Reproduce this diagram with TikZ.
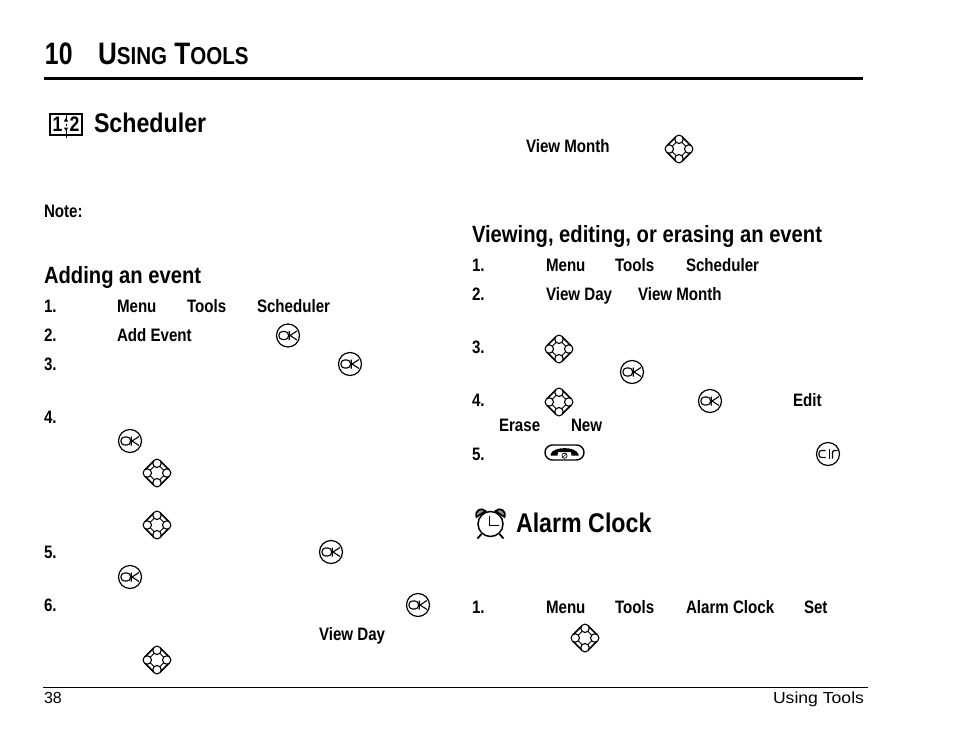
\documentclass[tikz,border=0pt]{standalone}
\usepackage{fontspec}
\setmainfont{Liberation Sans}
\newfontfamily\labf[FakeStretch=0.84]{Liberation Sans Bold}
\newfontfamily\secf[FakeStretch=0.86]{Liberation Sans Bold}
\newfontfamily\headf[FakeStretch=0.84]{Liberation Sans Bold}
\newfontfamily\numf[FakeStretch=0.80]{Liberation Sans Bold}
\newfontfamily\wide[FakeStretch=1.1]{Liberation Sans}
\tikzset{
 lab/.style={anchor=base west,inner sep=0pt,outer sep=0pt,font=\labf\fontsize{18}{20}\selectfont},
 sec/.style={anchor=base west,inner sep=0pt,outer sep=0pt,font=\secf\fontsize{23.5}{26}\selectfont},
 big/.style={anchor=base west,inner sep=0pt,outer sep=0pt,yshift=.5pt,font=\secf\fontsize{27}{30}\selectfont},
 head/.style={anchor=base west,inner sep=0pt,outer sep=0pt,yshift=1pt,font=\headf\fontsize{31}{34}\selectfont},
 plain/.style={anchor=base west,inner sep=0pt,outer sep=0pt,yshift=.5pt,font=\fontsize{16}{18}\selectfont},
 okicon/.pic={
  \draw[line width=1.2pt] (0,0) circle (11.5);
  \draw[line width=1.1pt,rounded corners=3.5pt] (-9,-4) rectangle (0.5,4);
  \draw[line width=1.1pt] (1.2,-4.5) -- (1.2,4.5) (9,-4.5) -- (2,0) -- (9,4.5);
 },
 clricon/.pic={
  \draw[line width=1.2pt] (0,0) circle (11.5);
  \draw[line width=1.1pt,rounded corners=2.5pt] (-2.5,-3.5) -- (-9,-3.5) -- (-9,3.5) -- (-2.5,3.5);
  \draw[line width=1.1pt] (1.3,-5) -- (1.3,4.5);
  \draw[line width=1.1pt,rounded corners=1.5pt] (4.5,4.5) -- (4.5,-3.5) -- (9.5,-3.5);
 },
 navicon/.pic={
  \draw[line width=1.6pt] (2.8,-12.5) -- (12.5,-2.8) (12.5,2.8) -- (2.8,12.5) (-2.8,12.5) -- (-12.5,2.8) (-12.5,-2.8) -- (-2.8,-12.5);
  \draw[line width=.9pt] (3,-6.5) -- (6.5,-3) (6.5,3) -- (3,6.5) (-3,6.5) -- (-6.5,3) (-6.5,-3) -- (-3,-6.5);
  \foreach \a in {0,90,180,270}{\draw[line width=1.1pt,fill=white] (\a:9.7) circle (4.2);}
 },
 endicon/.pic={
  \draw[line width=1.4pt,rounded corners=7.5pt] (-19.5,-7.5) rectangle (19.5,7.5);
  \fill (-14,2) .. controls (-12,-6.5) and (12,-6.5) .. (14,2) -- (14,3) -- (7,3) -- (6.5,-.5) -- (-6.5,-.5) -- (-7,3) -- (-14,3) -- cycle;
  \draw[line width=.7pt] (0,3.2) circle (2.6);
  \draw[line width=.6pt] (-1.8,5) -- (1.8,1.4);
 },
}
\begin{document}
\begin{tikzpicture}[x=1pt,y=-1pt]
\useasboundingbox (0,0) rectangle (954,742);
\fill[white] (0,0) rectangle (954,742);
% header
\node[head,font=\numf\fontsize{31}{34}\selectfont] (hnum) at (45,65) {10};
\node[head] (htitle) at (98,65) {U{\fontsize{24.5}{26}\selectfont SING} T{\fontsize{24.5}{26}\selectfont OOLS}};
\draw[line width=3pt] (44,78.5) -- (863,78.5);
% scheduler icon
\begin{scope}[shift={(66,125)}]
 \draw[line width=1.7pt] (-16,-11) rectangle (16,10);
 \draw[line width=.8pt] (0,10) -- (0,13);
 \node[font=\labf\fontsize{21}{21}\selectfont,inner sep=0pt] at (-8.5,-.5) {1};
 \node[font=\labf\fontsize{21}{21}\selectfont,inner sep=0pt] at (8.5,-.5) {2};
 \fill (-2.2,-3.5) -- (2.2,-3.5) -- (0,-7) -- cycle;
 \fill (-2.2,2.5) -- (2.2,2.5) -- (0,6) -- cycle;
 \draw[line width=.8pt] (0,-11) -- (0,-6) (0,-1.5) -- (0,.5) (0,5) -- (0,10);
\end{scope}
\node[big] (sched) at (94,133) {Scheduler};
\node[lab] (note) at (44,217) {Note:};
\node[sec] (add) at (44,283) {Adding an event};
% left column
\node[lab] at (44,312) {1.};
\node[lab] at (117,312) {Menu};
\node[lab] at (187,312) {Tools};
\node[lab] at (257,312) {Scheduler};
\node[lab] at (44,341) {2.};
\node[lab] at (117,341) {Add Event};
\pic at (288,335.5) {okicon};
\node[lab] at (44,370) {3.};
\pic at (350,364) {okicon};
\node[lab] at (44,423) {4.};
\pic at (130,441) {okicon};
\pic at (157,473) {navicon};
\pic at (157,525) {navicon};
\node[lab] at (44,558) {5.};
\pic at (331,552) {okicon};
\pic at (130,577) {okicon};
\node[lab] at (44,611) {6.};
\pic at (418,605) {okicon};
\node[lab] at (319,640) {View Day};
\pic at (157,660) {navicon};
% right column
\node[lab] at (526,152) {View Month};
\pic at (679,149) {navicon};
\node[sec] (view) at (472,242) {Viewing, editing, or erasing an event};
\node[lab] at (472,271) {1.};
\node[lab] at (546,271) {Menu};
\node[lab] at (615,271) {Tools};
\node[lab] at (686,271) {Scheduler};
\node[lab] at (472,300) {2.};
\node[lab] at (546,300) {View Day};
\node[lab] at (638,300) {View Month};
\node[lab] at (472,353) {3.};
\pic at (559,349) {navicon};
\pic at (632,372) {okicon};
\node[lab] at (472,406) {4.};
\pic at (559,402) {navicon};
\pic at (710,401) {okicon};
\node[lab] at (793,406) {Edit};
\node[lab] at (499,431) {Erase};
\node[lab] at (571,431) {New};
\node[lab] at (472,460) {5.};
\pic at (564.5,452.5) {endicon};
\pic at (828,454) {clricon};
% alarm
\begin{scope}[shift={(490.5,524)}]
 \draw[line width=1.7pt,fill=black!45] (-14,-7) .. controls (-16,-14) and (-9,-17) .. (-5,-13) -- cycle;
 \draw[line width=1.7pt,fill=black!45] (14,-7) .. controls (16,-14) and (9,-17) .. (5,-13) -- cycle;
 \draw[line width=1.5pt,fill=white] (0,0) circle (12.5);
 \draw[line width=1.5pt] (-1,-8) -- (-1,1.5) -- (8,1.5);
 \draw[line width=1.8pt] (-9,10) -- (-13,14.5);
 \draw[line width=1.8pt] (9,10) -- (13,14.5);
\end{scope}
\node[big] (alarm) at (516,533) {Alarm Clock};
\node[lab] at (472,613) {1.};
\node[lab] at (546,613) {Menu};
\node[lab] at (615,613) {Tools};
\node[lab] at (686,613) {Alarm Clock};
\node[lab] at (804,613) {Set};
\pic at (585,638) {navicon};
% footer
\draw[line width=.8pt] (43,687.5) -- (868,687.5);
\node[plain] (pg) at (44,704) {38};
\node[plain,anchor=base east,font=\wide\fontsize{16}{18}\selectfont] (ft) at (864,704) {Using Tools};
\end{tikzpicture}
\end{document}
